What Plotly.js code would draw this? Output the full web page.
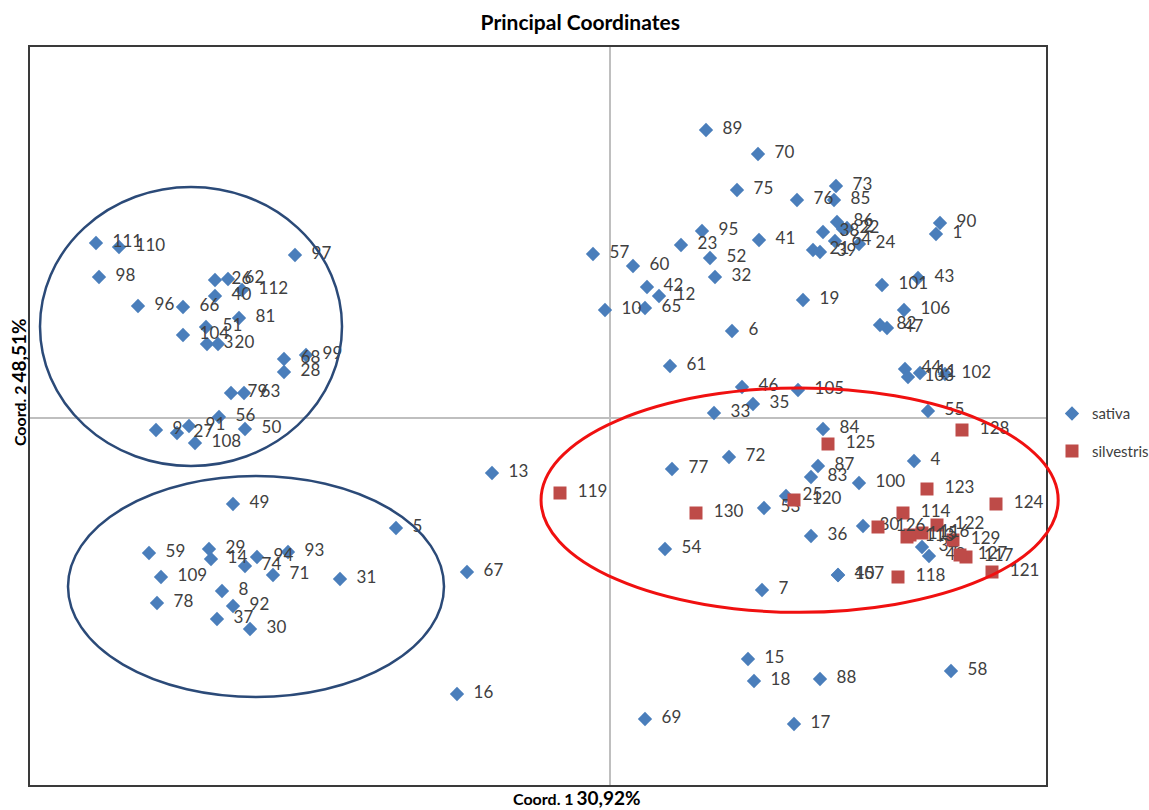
<!DOCTYPE html>
<html>
<head>
<meta charset="utf-8">
<script src="https://cdn.plot.ly/plotly-3.0.1.min.js"></script>
<style>html,body{margin:0;padding:0;background:#fff;}#chart{width:1149px;height:810px;}</style>
</head>
<body>
<div id="chart"></div>
<script>
// Sample ids and coordinates (Coord. 1, Coord. 2)
const sativaIds = [1,2,3,4,5,6,7,8,9,10,11,12,13,14,15,16,17,18,19,20,21,22,23,24,25,26,27,28,29,30,31,32,33,34,35,36,37,38,39,40,41,42,43,44,45,46,47,48,49,50,51,52,53,54,55,56,57,58,59,60,61,62,63,64,65,66,67,68,69,70,71,72,73,74,75,76,77,78,79,80,81,82,83,84,85,86,87,88,89,90,91,92,93,94,95,96,97,98,99,100,101,102,103,104,105,106,107,108,109,110,111,112];
const sativaX = [0.326,0.237,-0.403,0.304,-0.214,0.122,0.152,-0.388,-0.454,-0.005,0.310,0.049,-0.118,-0.399,0.138,-0.153,0.184,0.144,0.193,-0.392,0.203,0.233,0.071,0.249,0.176,-0.395,-0.433,-0.326,-0.401,-0.360,-0.270,0.105,0.104,0.312,0.143,0.201,-0.393,0.213,0.210,-0.395,0.149,0.037,0.308,0.295,0.228,0.132,0.277,0.319,-0.377,-0.365,-0.404,0.100,0.154,0.055,0.318,-0.391,-0.017,0.341,-0.461,0.023,0.060,-0.382,-0.366,0.225,0.035,-0.427,-0.143,-0.326,0.035,0.148,-0.337,0.119,0.226,-0.365,0.127,0.187,0.062,-0.453,-0.379,0.253,-0.371,0.270,0.201,0.213,0.224,0.227,0.208,0.210,0.096,0.330,-0.421,-0.377,-0.322,-0.353,0.092,-0.472,-0.315,-0.511,-0.304,0.249,0.272,0.335,0.298,-0.427,0.188,0.294,0.228,-0.415,-0.449,-0.491,-0.514,-0.368];
const sativaY = [0.184,0.190,0.074,-0.043,-0.110,0.087,-0.172,-0.173,-0.012,0.108,0.045,0.122,-0.055,-0.141,-0.241,-0.276,-0.306,-0.263,0.118,0.074,0.168,0.189,0.173,0.174,-0.078,0.138,-0.015,0.046,-0.131,-0.211,-0.161,0.141,0.005,-0.129,0.014,-0.118,-0.201,0.186,0.166,0.122,0.178,0.131,0.140,0.049,-0.157,0.031,0.090,-0.138,-0.086,-0.011,0.091,0.160,-0.090,-0.131,0.007,0.001,0.164,-0.253,-0.135,0.152,0.052,0.139,0.025,0.177,0.110,0.111,-0.154,0.059,-0.301,0.264,-0.157,-0.039,0.232,-0.148,0.228,0.218,-0.051,-0.185,0.025,-0.108,0.100,0.093,-0.059,-0.011,0.218,0.196,-0.048,-0.261,0.288,0.195,-0.008,-0.188,-0.134,-0.139,0.187,0.112,0.163,0.141,0.063,-0.065,0.133,0.044,0.041,0.083,0.028,0.108,-0.157,-0.025,-0.159,0.171,0.175,0.128];

const silvestrisIds = [113,114,115,116,117,118,119,120,121,122,123,124,125,126,127,128,129,130];
const silvestrisX = [0.297,0.293,0.300,0.312,0.356,0.288,-0.050,0.184,0.382,0.327,0.317,0.386,0.218,0.268,0.350,0.352,0.343,0.086];
const silvestrisY = [-0.119,-0.095,-0.117,-0.115,-0.139,-0.159,-0.075,-0.082,-0.154,-0.107,-0.071,-0.086,-0.026,-0.109,-0.137,-0.012,-0.122,-0.095];

const labelFont = {family: 'Lato, "Open Sans", sans-serif', size: 17, color: '#404040'};
const pad = '\u00a0\u00a0';

const traces = [
  {
    type: 'scatter', mode: 'markers+text', name: 'sativa',
    x: sativaX, y: sativaY, text: sativaIds.map(String), texttemplate: pad + '%{text}',
    textposition: 'middle right', textfont: labelFont,
    marker: {symbol: 'diamond', size: 11, color: '#4A7EBB'},
    legendgroup: 'a', cliponaxis: false, hoverinfo: 'text'
  },
  {
    type: 'scatter', mode: 'markers+text', name: 'silvestris',
    x: silvestrisX, y: silvestrisY, text: silvestrisIds.map(String), texttemplate: pad + '%{text}',
    textposition: 'middle right', textfont: labelFont,
    marker: {symbol: 'square', size: 13, color: '#BE4B48'},
    legendgroup: 'b', cliponaxis: false, hoverinfo: 'text'
  }
];

const layout = {
  width: 1149, height: 810,
  margin: {l: 30, r: 103, t: 47, b: 25, autoexpand: false},
  paper_bgcolor: '#ffffff', plot_bgcolor: '#ffffff',
  font: {family: 'Lato, "Open Sans", sans-serif', color: '#000'},
  title: {text: '<b>Principal Coordinates</b>', x: 0.505, xanchor: 'center', y: 0.972, yanchor: 'middle', font: {size: 21, color: '#000'}},
  showlegend: true,
  legend: {x: 1.0059, xanchor: 'left', y: 0.478, yanchor: 'middle', traceorder: 'grouped', tracegroupgap: 15,
           font: {size: 15, color: '#404040'}, bgcolor: 'rgba(0,0,0,0)', itemwidth: 30},
  xaxis: {range: [-0.580, 0.436], showgrid: false, zeroline: true, zerolinecolor: '#BFBFBF', zerolinewidth: 1.5,
          showticklabels: false, ticks: '', showline: true, mirror: true, linecolor: '#3a3a3a', linewidth: 2, fixedrange: true},
  yaxis: {range: [-0.367, 0.371], showgrid: false, zeroline: true, zerolinecolor: '#BFBFBF', zerolinewidth: 1.5,
          showticklabels: false, ticks: '', showline: true, mirror: true, linecolor: '#3a3a3a', linewidth: 2, fixedrange: true},
  shapes: [
    {type: 'circle', xref: 'x', yref: 'y', x0: -0.570, x1: -0.268, y0: -0.048, y1: 0.231, line: {color: '#2B4A78', width: 2.5}},
    {type: 'circle', xref: 'x', yref: 'y', x0: -0.542, x1: -0.166, y0: -0.279, y1: -0.058, line: {color: '#2B4A78', width: 2.5}},
    {type: 'circle', xref: 'paper', yref: 'paper', x0: 0.503, x1: 1.012, y0: 0.234, y1: 0.538, line: {color: '#F01010', width: 3}}
  ],
  annotations: [
    {xref: 'paper', yref: 'paper', x: 0.538, y: -0.0176, xanchor: 'center', yanchor: 'middle', showarrow: false,
     text: '<b><span style="font-size:16px">Coord. 1</span>\u00a0<span style="font-size:19px">30,92%</span></b>', font: {color: '#000'}},
    {xref: 'paper', yref: 'paper', x: -0.0118, y: 0.546, xanchor: 'center', yanchor: 'middle', showarrow: false, textangle: -90,
     text: '<b><span style="font-size:16px">Coord. 2</span>\u00a0<span style="font-size:19px">48,51%</span></b>', font: {color: '#000'}}
  ]
};

Plotly.newPlot('chart', traces, layout, {displayModeBar: false, staticPlot: true});
</script>
</body>
</html>
